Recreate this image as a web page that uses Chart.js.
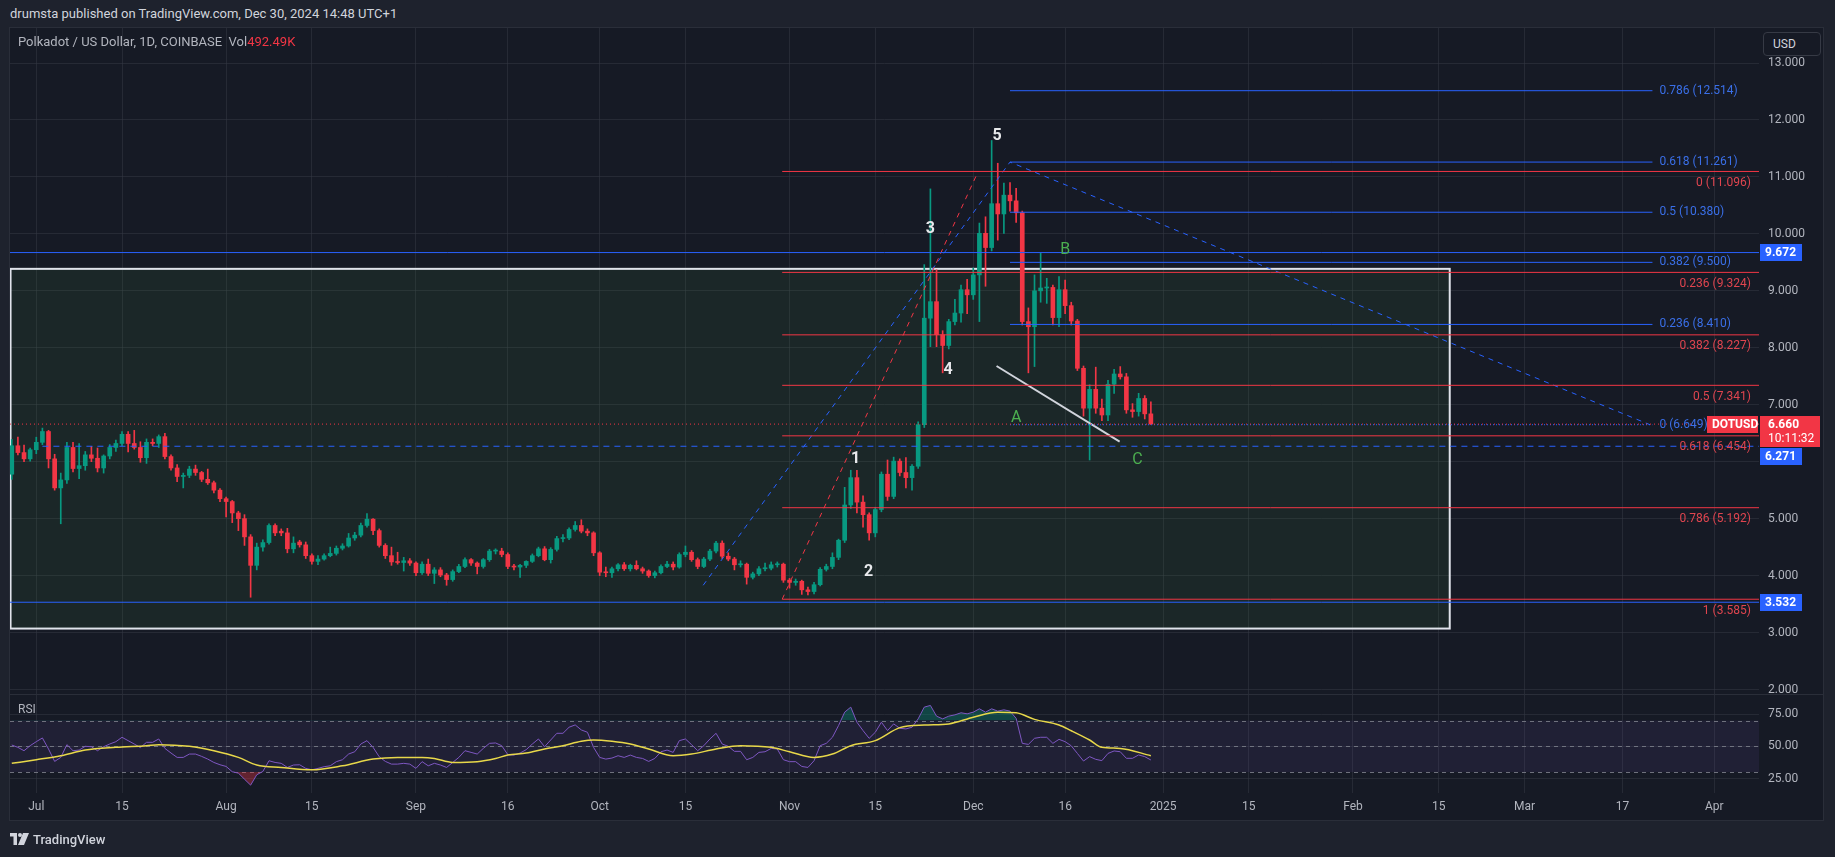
<!DOCTYPE html>
<html>
<head>
<meta charset="utf-8">
<script src="https://cdn.jsdelivr.net/npm/chart.js@4.4.1/dist/chart.umd.min.js"></script>
<style>
  body { margin:0; width:1835px; height:857px; background:#1e222d; overflow:hidden; position:relative;
         font-family: Roboto, "Liberation Sans", sans-serif; }
  #head { position:absolute; left:10px; top:5px; color:#d1d4dc; font-size:13px; line-height:18px; }
  #frame { position:absolute; left:9px; top:27px; width:1815px; height:794px; background:#161a25;
           border:1px solid #2a2e39; box-sizing:border-box; }
  #sep { position:absolute; left:10px; top:694px; width:1813px; height:1px; background:#2a2e39; }
  #price { position:absolute; left:10px; top:28px; }
  #rsi { position:absolute; left:10px; top:695px; }
  #legend { position:absolute; left:18px; top:34px; color:#b2b5be; font-size:13px; line-height:16px; }
  #legend span { color:#f23645; }
  #usd { position:absolute; left:1763px; top:32px; width:58px; height:24px; box-sizing:border-box;
         border:1px solid #363a45; border-radius:4px; color:#d1d4dc; font-size:12px; line-height:22px; padding-left:9px; background:#161a25; }
  #rsiLabel { position:absolute; left:18px; top:702px; color:#b2b5be; font-size:12px; }
  #logo { position:absolute; left:10px; top:831px; height:16px; display:flex; align-items:center; color:#d1d4dc; font-size:13px; font-weight:500; }
  #logo svg { margin-right:4px; }
</style>
</head>
<body>
<div id="head">drumsta published on TradingView.com, Dec 30, 2024 14:48 UTC+1</div>
<div id="frame"></div>
<canvas id="price" width="1813" height="666"></canvas>
<div id="sep"></div>
<canvas id="rsi" width="1813" height="126"></canvas>
<div id="legend">Polkadot / US Dollar, 1D, COINBASE&nbsp; Vol<span>492.49K</span></div>
<div id="usd">USD</div>
<div id="rsiLabel">RSI</div>
<div id="logo"><svg width="19" height="12" viewBox="0 0 19 12"><path d="M0 0h7v12H3.5V3.5H0z M13 0h6l-5 12H8z" fill="#d1d4dc"/><circle cx="10" cy="2" r="2" fill="#d1d4dc"/></svg>TradingView</div>
<script>
'use strict'
// days counted from 1 Jul 2024, first candle is 27 Jun 2024
const firstDay = -4;

const opens = [
  5.78,6.28,6.16,6.05,6.21,6.34,6.53,6.05,5.54,5.68,
  6.25,5.88,5.93,6.12,6.06,5.89,6.10,6.25,6.32,6.48,
  6.32,6.25,6.07,6.34,6.32,6.44,6.09,5.89,5.74,5.76,
  5.87,5.81,5.69,5.63,5.50,5.35,5.30,5.10,5.00,4.68,
  4.18,4.50,4.58,4.88,4.78,4.75,4.47,4.59,4.54,4.35,
  4.25,4.29,4.35,4.39,4.48,4.52,4.66,4.71,4.88,4.99,
  4.79,4.53,4.35,4.24,4.23,4.26,4.22,4.05,4.20,4.04,
  4.10,4.01,3.93,4.07,4.16,4.28,4.22,4.16,4.28,4.43,
  4.43,4.37,4.16,4.15,4.18,4.25,4.35,4.47,4.28,4.46,
  4.65,4.66,4.81,4.88,4.78,4.75,4.40,4.06,4.05,4.12,
  4.19,4.12,4.18,4.12,4.08,4.00,4.05,4.16,4.20,4.15,
  4.37,4.41,4.28,4.16,4.29,4.43,4.57,4.34,4.29,4.19,
  4.20,3.97,4.03,4.12,4.13,4.19,4.20,3.92,3.88,3.90,
  3.75,3.72,3.84,4.11,4.16,4.32,4.62,5.24,5.72,5.29,
  5.07,4.75,5.16,5.78,5.39,6.01,5.81,5.72,5.92,6.65,
  8.52,8.81,8.23,8.04,8.46,8.61,9.02,8.93,9.28,10.01,
  9.76,10.53,10.35,10.68,10.58,10.37,8.46,8.37,9.00,9.05,
  9.06,8.53,9.02,8.74,8.47,7.64,6.94,7.27,6.94,6.82,
  7.36,7.54,7.49,6.91,6.88,7.11,6.84
];
const highs = [
  6.39,6.43,6.29,6.24,6.43,6.59,6.55,6.13,5.80,6.34,
  6.34,6.32,6.18,6.27,6.24,6.12,6.30,6.38,6.53,6.53,
  6.55,6.35,6.40,6.40,6.47,6.50,6.12,5.95,5.80,5.92,
  5.94,5.83,5.87,5.66,5.53,5.38,5.32,5.13,5.07,4.72,
  4.57,4.63,4.91,4.91,4.82,4.83,4.68,4.62,4.59,4.38,
  4.35,4.38,4.50,4.52,4.56,4.74,4.76,4.92,5.09,5.00,
  4.82,4.56,4.50,4.41,4.32,4.30,4.24,4.24,4.29,4.14,
  4.14,4.04,4.10,4.20,4.31,4.30,4.24,4.30,4.46,4.47,
  4.48,4.40,4.20,4.20,4.26,4.38,4.50,4.51,4.49,4.69,
  4.72,4.84,4.95,4.98,4.82,4.77,4.42,4.15,4.15,4.21,
  4.23,4.20,4.26,4.15,4.10,4.08,4.19,4.25,4.24,4.40,
  4.52,4.44,4.31,4.32,4.46,4.60,4.61,4.40,4.32,4.26,
  4.22,4.06,4.16,4.22,4.24,4.24,4.22,3.95,3.94,3.92,
  3.80,3.88,4.14,4.20,4.40,4.64,5.55,5.85,5.85,5.40,
  5.10,5.20,5.82,6.03,6.08,6.05,6.07,5.95,6.70,9.46,
  10.79,9.37,8.30,8.50,8.85,9.10,9.20,9.40,10.19,10.30,
  11.64,11.24,10.89,10.90,10.80,10.40,8.70,9.28,9.66,9.22,
  9.10,9.25,9.19,8.80,8.50,7.68,7.35,7.66,7.10,7.43,
  7.62,7.67,7.55,7.02,7.20,7.16,7.05
];
const lows = [
  5.69,6.12,6.00,6.01,6.14,6.30,5.89,5.50,4.91,5.62,
  5.82,5.70,5.85,6.00,5.82,5.80,6.05,6.18,6.28,6.17,
  6.22,5.99,5.97,6.28,6.25,6.05,5.85,5.65,5.54,5.72,
  5.76,5.65,5.60,5.45,5.30,5.03,4.93,4.79,4.53,3.62,
  4.10,4.43,4.55,4.70,4.70,4.40,4.40,4.50,4.30,4.20,
  4.19,4.27,4.33,4.36,4.45,4.50,4.62,4.68,4.85,4.72,
  4.50,4.30,4.18,4.20,4.08,4.18,4.00,4.02,4.00,3.86,
  3.98,3.83,3.90,4.05,4.14,4.18,4.03,4.13,4.25,4.38,
  4.33,4.12,4.10,3.97,4.14,4.23,4.33,4.26,4.22,4.43,
  4.59,4.63,4.78,4.75,4.70,4.35,4.00,3.98,3.97,4.08,
  4.09,4.08,4.10,4.04,3.97,3.96,4.03,4.14,4.10,4.13,
  4.33,4.25,4.12,4.14,4.26,4.40,4.30,4.26,4.10,4.15,
  3.85,3.94,4.00,4.08,4.10,4.15,3.88,3.78,3.83,3.67,
  3.66,3.68,3.82,4.08,4.12,4.28,4.58,5.18,5.10,4.85,
  4.62,4.68,5.12,5.32,5.35,5.75,5.54,5.50,5.88,6.60,
  8.02,8.02,7.56,7.98,8.40,8.45,8.60,8.85,8.46,9.08,
  9.70,9.89,10.01,10.40,10.20,8.40,7.56,7.67,8.80,8.78,
  8.40,8.37,8.60,8.40,7.60,6.80,6.03,6.85,6.72,6.72,
  7.20,7.45,6.85,6.78,6.80,6.75,6.66
];
const closes = [
  6.28,6.16,6.05,6.21,6.34,6.53,6.05,5.54,5.68,6.25,
  5.88,5.93,6.12,6.06,5.89,6.10,6.25,6.32,6.48,6.32,
  6.25,6.07,6.34,6.32,6.44,6.09,5.89,5.74,5.76,5.87,
  5.81,5.69,5.63,5.50,5.35,5.30,5.10,5.00,4.68,4.18,
  4.50,4.58,4.88,4.75,4.75,4.47,4.57,4.54,4.35,4.25,
  4.29,4.35,4.39,4.48,4.52,4.66,4.71,4.88,4.99,4.79,
  4.53,4.35,4.24,4.23,4.26,4.22,4.05,4.20,4.04,4.10,
  4.01,3.93,4.07,4.16,4.28,4.22,4.16,4.28,4.43,4.43,
  4.37,4.16,4.15,4.18,4.25,4.35,4.47,4.28,4.46,4.65,
  4.66,4.81,4.88,4.78,4.75,4.40,4.06,4.05,4.12,4.19,
  4.12,4.18,4.12,4.08,4.00,4.05,4.16,4.20,4.15,4.37,
  4.41,4.28,4.16,4.29,4.43,4.57,4.34,4.29,4.19,4.20,
  3.97,4.03,4.12,4.13,4.19,4.20,3.92,3.88,3.90,3.75,
  3.72,3.84,4.11,4.16,4.32,4.62,5.24,5.72,5.29,5.07,
  4.75,5.16,5.78,5.39,6.01,5.81,5.72,5.92,6.65,8.52,
  8.81,8.23,8.04,8.46,8.61,9.02,8.93,9.28,10.01,9.76,
  10.53,10.35,10.68,10.58,10.37,8.46,8.37,9.00,9.05,9.06,
  8.53,9.02,8.74,8.47,7.64,6.94,7.27,6.94,6.82,7.36,
  7.54,7.49,6.91,6.88,7.11,6.84,6.66
];
const rsiValues = [
  51.0,49.2,46.6,50.5,53.6,56.5,47.9,38.3,41.4,51.3,
  46.6,47.1,50.0,49.7,46.6,49.7,51.8,53.6,57.0,54.4,
  51.8,49.0,53.1,53.1,55.7,48.4,44.8,41.4,41.4,44.0,
  44.0,42.2,40.1,37.5,35.7,34.4,30.3,29.2,24.5,19.9,
  27.9,30.5,38.8,37.5,36.8,33.6,35.5,35.7,32.9,31.8,
  32.9,34.2,34.9,38.1,39.6,44.0,45.8,51.8,54.4,49.2,
  41.9,38.3,36.2,36.2,36.8,36.2,32.9,38.1,34.9,36.8,
  35.5,33.6,37.5,41.4,46.6,45.3,44.0,48.4,52.3,52.6,
  50.5,43.5,43.2,44.8,47.4,51.8,55.7,49.7,54.9,60.1,
  60.1,64.8,66.6,62.7,60.9,49.2,41.4,40.1,40.9,42.7,
  41.4,43.2,41.4,40.6,38.3,40.6,45.8,47.1,45.3,54.4,
  55.7,51.3,46.6,50.5,55.7,60.1,51.8,50.0,46.1,46.1,
  39.6,41.4,45.3,45.8,48.4,47.9,39.6,38.1,38.1,34.4,
  33.6,38.8,50.5,52.3,57.0,66.1,76.5,80.4,68.7,62.2,
  56.2,60.9,68.7,62.2,67.4,64.0,63.5,64.8,71.3,80.4,
  81.7,73.4,71.3,73.4,74.4,76.0,75.2,76.5,79.1,76.5,
  79.1,77.3,78.3,77.3,71.7,52.3,51.5,56.2,57.0,57.0,
  52.3,55.4,53.6,50.4,44.5,38.6,42.0,39.9,38.9,44.5,
  46.4,45.8,40.7,40.7,43.3,42.0,39.4
];
// RSI moving average, read at these days
const maDays = [-4,0,4,8,13,18,20,25,29,33,36,40,45,50,55,59,63,65,68,72,75,77,80,83,86,89,91,94,97,100,
  104,107,111,115,120,123,127,130,133,137,141,145,149,153,157,160,163,167,169,172,174,177,182];
const maValues = [36.8,39.6,42.7,47.1,49.2,50.5,51.3,50.0,46.6,41.4,35.5,33.6,31.8,34.9,40.1,41.4,41.4,40.6,37.5,38.1,
  40.6,43.2,44.8,47.9,50.5,53.9,54.9,53.9,51.8,47.9,42.7,44.0,47.9,50.5,49.2,45.8,41.4,44.0,50.5,54.4,
  64.5,66.6,67.4,72.6,76.5,76.0,70.9,66.5,62.1,54.9,49.2,48.4,42.7];

const xTickDays = [0,14,31,45,62,77,92,106,123,137,153,168,184,198,215,229,243,259,274];
const xTickLabels = ['Jul','15','Aug','15','Sep','16','Oct','15','Nov','15','Dec','16','2025','15','Feb','15','Mar','17','Apr'];
const priceTicks = [2,3,4,5,6,7,8,9,10,11,12,13];
const rsiTicks = [25,50,75];

// fib retracement (red) and trend-based extension (blue)
const redFibLevels = ['0','0.236','0.382','0.5','0.618','0.786','1'];
const redFibPrices = [11.096,9.324,8.227,7.341,6.454,5.192,3.585];
const blueFibLevels = ['0','0.236','0.382','0.5','0.618','0.786'];
const blueFibPrices = [6.649,8.410,9.500,10.380,11.261,12.514];
const redFibSpan = [121.8, 153.8];
const blueFibDays = [108.9, 159.0, 263.5];
const blueFibAnchors = [3.83, 11.261, 6.649];
const blueFibEnd = 263.9;

const waveText = ['1','2','3','4','5'];
const waveDays = [133.8,135.9,146.0,148.9,156.9];
const wavePrices = [6.04,4.07,10.08,7.61,11.71];
const abcText = ['A','B','C'];
const abcDays = [160.0,168.0,179.8];
const abcPrices = [6.77,9.72,6.03];

const whiteLineDays = [156.8,176.9];
const whiteLinePrices = [7.68,6.351];
const boxDays = [-4.2, 230.8];
const boxPrices = [9.386, 3.07];

const lastPrice = 6.660;
const lastTime = '10:11:32';
const blueLines = [9.672, 3.532];
const blueDashed = 6.271;
const blueDashedFrom = 1;

const xMin = -4.29, xMax = 281.3;
const up = '#089981', down = '#f23645', blue = '#2962ff';

Chart.defaults.font.family = 'Roboto, "Liberation Sans", sans-serif';
Chart.defaults.font.size = 12;
Chart.defaults.color = '#b2b5be';
Chart.defaults.animation = false;

const days = closes.map((c, i) => firstDay + i);
const candleColor = closes.map((c, i) => c >= opens[i] ? up : down);
const gridColor = 'rgba(54,58,69,0.5)';

function noPad(s) {
  s.paddingTop = 0; s.paddingBottom = 0; s.paddingLeft = 0; s.paddingRight = 0;
}

function seg(points, color, dash, width) {
  return { type: 'line', data: points, borderColor: color, borderWidth: width || 1, borderDash: dash || [],
           pointRadius: 0, tension: 0, fill: false, order: 0 };
}

const priceSets = [
  { type: 'bar', data: days.map((d, i) => ({ x: d, y: [lows[i], highs[i]] })), backgroundColor: candleColor,
    barThickness: 1, grouped: false, order: 11 },
  { type: 'bar', data: days.map((d, i) => ({ x: d, y: [opens[i], closes[i]] })), backgroundColor: candleColor,
    barThickness: 4, grouped: false, minBarLength: 1, order: 10 }
];
blueLines.forEach(v => priceSets.push(seg([{ x: xMin, y: v }, { x: xMax, y: v }], blue)));
priceSets.push(seg([{ x: blueDashedFrom, y: blueDashed }, { x: xMax, y: blueDashed }], blue, [6, 5]));
priceSets.push(seg([{ x: xMin, y: lastPrice }, { x: xMax, y: lastPrice }], down, [1, 3]));
redFibPrices.forEach(v => priceSets.push(seg([{ x: redFibSpan[0], y: v }, { x: xMax, y: v }], down)));
blueFibPrices.forEach((v, i) => priceSets.push(seg([{ x: blueFibDays[1], y: v }, { x: blueFibEnd, y: v }], blue, i === 0 ? [1, 2] : [])));
priceSets.push(seg([{ x: redFibSpan[0], y: redFibPrices[6] }, { x: redFibSpan[1], y: redFibPrices[0] }], down, [5, 5]));
priceSets.push(seg(blueFibDays.map((d, i) => ({ x: d, y: blueFibAnchors[i] })), blue, [5, 5]));
priceSets.push(seg(whiteLineDays.map((d, i) => ({ x: d, y: whiteLinePrices[i] })), '#d1d4dc', [], 2));

function tag(ctx, x, yc, w, h, bg, text) {
  ctx.fillStyle = bg;
  ctx.fillRect(x, Math.round(yc - h / 2), w, h);
  ctx.fillStyle = '#ffffff';
  ctx.font = 'bold 12px Roboto, sans-serif';
  ctx.textAlign = 'left';
  ctx.textBaseline = 'middle';
  ctx.fillText(text, x + 5, yc + 0.5);
}

const priceDecor = {
  id: 'priceDecor',
  beforeDatasetsDraw(chart) {
    const { ctx, chartArea: a, scales: { x, y } } = chart;
    ctx.save();
    ctx.beginPath(); ctx.rect(a.left, a.top, a.width, a.height); ctx.clip();
    const x0 = x.getPixelForValue(boxDays[0]), x1 = x.getPixelForValue(boxDays[1]);
    const y0 = y.getPixelForValue(boxPrices[0]), y1 = y.getPixelForValue(boxPrices[1]);
    ctx.fillStyle = 'rgba(76,175,80,0.09)';
    ctx.fillRect(x0, y0, x1 - x0, y1 - y0);
    ctx.strokeStyle = '#e0e3eb';
    ctx.lineWidth = 2;
    ctx.strokeRect(x0, y0, x1 - x0, y1 - y0);
    ctx.restore();
  },
  afterDraw(chart) {
    const { ctx, chartArea: a, scales: { x, y } } = chart;
    ctx.save();
    ctx.font = '12px Roboto, sans-serif';
    ctx.textBaseline = 'middle';
    ctx.textAlign = 'right';
    ctx.fillStyle = '#e0454f';
    redFibPrices.forEach((v, i) => ctx.fillText(redFibLevels[i] + ' (' + v.toFixed(3) + ')', a.right - 8, y.getPixelForValue(v) + 11.5));
    ctx.textAlign = 'left';
    ctx.fillStyle = '#3a6fe8';
    const bx = x.getPixelForValue(blueFibEnd) + 7;
    blueFibPrices.forEach((v, i) => ctx.fillText(blueFibLevels[i] + ' (' + v.toFixed(3) + ')', bx, y.getPixelForValue(v)));

    ctx.textAlign = 'center';
    ctx.font = 'bold 16px Roboto, sans-serif';
    ctx.fillStyle = '#e8e9ec';
    waveText.forEach((t, i) => ctx.fillText(t, x.getPixelForValue(waveDays[i]), y.getPixelForValue(wavePrices[i])));
    ctx.font = '16px Roboto, sans-serif';
    ctx.fillStyle = '#4caf50';
    abcText.forEach((t, i) => ctx.fillText(t, x.getPixelForValue(abcDays[i]), y.getPixelForValue(abcPrices[i])));

    const ax = a.right + 1;
    blueLines.forEach(v => tag(ctx, ax, y.getPixelForValue(v), 42, 17, blue, v.toFixed(3)));
    const ly = y.getPixelForValue(lastPrice);
    const redTop = Math.round(ly - 8.5);
    ctx.fillStyle = down;
    ctx.fillRect(ax, redTop, 60, 31);
    ctx.fillStyle = '#ffffff';
    ctx.font = 'bold 12px Roboto, sans-serif';
    ctx.textAlign = 'left';
    ctx.fillText(lastPrice.toFixed(3), ax + 8, ly + 0.5);
    ctx.font = '12px Roboto, sans-serif';
    ctx.fillText(lastTime, ax + 8, ly + 14.5);
    tag(ctx, a.right - 52, ly, 51, 17, down, 'DOTUSD');
    // the 6.271 tag is pushed below the last-price tag, as the platform does with overlapping labels
    tag(ctx, ax, Math.max(y.getPixelForValue(blueDashed), redTop + 31 + 1 + 8.5), 42, 17, blue, blueDashed.toFixed(3));
    ctx.restore();
  }
};

new Chart(document.getElementById('price'), {
  type: 'bar',
  data: { datasets: priceSets },
  options: {
    responsive: false, events: [],
    layout: { padding: 0 },
    plugins: { legend: { display: false }, tooltip: { enabled: false } },
    scales: {
      x: { type: 'linear', min: xMin, max: xMax, offset: false,
           grid: { color: gridColor, offset: false, drawTicks: false }, border: { display: false },
           ticks: { display: false },
           afterBuildTicks: s => { s.ticks = xTickDays.map(v => ({ value: v })); },
           afterFit: s => { s.height = 0; noPad(s); } },
      y: { position: 'right', min: 1.921, max: 13.615,
           grid: { color: gridColor, drawTicks: false }, border: { display: false },
           ticks: { padding: 9, color: '#b2b5be', callback: v => v.toFixed(3) },
           afterBuildTicks: s => { s.ticks = priceTicks.map(v => ({ value: v })); },
           afterFit: s => { s.width = 64; noPad(s); } }
    }
  },
  plugins: [priceDecor]
});

const rsiDecor = {
  id: 'rsiDecor',
  beforeDatasetsDraw(chart) {
    const { ctx, chartArea: a, scales: { y } } = chart;
    ctx.save();
    const y70 = y.getPixelForValue(70), y30 = y.getPixelForValue(30);
    ctx.fillStyle = 'rgba(126,87,194,0.1)';
    ctx.fillRect(a.left, y70, a.width, y30 - y70);
    ctx.strokeStyle = 'rgba(120,123,134,0.9)';
    ctx.lineWidth = 1;
    ctx.setLineDash([4, 4]);
    [70, 50, 30].forEach(v => {
      const yy = Math.round(y.getPixelForValue(v)) + 0.5;
      ctx.beginPath(); ctx.moveTo(a.left, yy); ctx.lineTo(a.right, yy); ctx.stroke();
    });
    ctx.restore();
  }
};

const rsiPoints = rsiValues.map((v, i) => ({ x: days[i], y: v }));
new Chart(document.getElementById('rsi'), {
  type: 'line',
  data: { datasets: [
    { data: rsiPoints, borderColor: '#7e57c2', borderWidth: 1, pointRadius: 0, tension: 0,
      fill: { target: { value: 70 }, above: 'rgba(8,153,129,0.35)', below: 'rgba(0,0,0,0)' }, order: 1 },
    { data: rsiPoints, borderWidth: 0, borderColor: 'rgba(0,0,0,0)', pointRadius: 0, tension: 0,
      fill: { target: { value: 30 }, above: 'rgba(0,0,0,0)', below: 'rgba(242,54,69,0.35)' }, order: 2 },
    { data: maDays.map((d, i) => ({ x: d, y: maValues[i] })), borderColor: '#e8d84a', borderWidth: 1.5,
      pointRadius: 0, cubicInterpolationMode: 'monotone', fill: false, order: 0 }
  ] },
  options: {
    responsive: false, events: [],
    layout: { padding: 0 },
    plugins: { legend: { display: false }, tooltip: { enabled: false } },
    scales: {
      x: { type: 'linear', min: xMin, max: xMax,
           grid: { color: gridColor, drawTicks: false }, border: { display: false },
           ticks: { padding: 7, color: '#b2b5be', maxRotation: 0, autoSkip: false,
                    callback: (v, i) => xTickLabels[i] },
           afterBuildTicks: s => { s.ticks = xTickDays.map(v => ({ value: v })); },
           afterFit: s => { s.height = 28; noPad(s); } },
      y: { position: 'right', min: 13.8, max: 89.8,
           grid: { color: gridColor, drawTicks: false }, border: { display: false },
           ticks: { padding: 9, color: '#b2b5be', callback: v => v.toFixed(2) },
           afterBuildTicks: s => { s.ticks = rsiTicks.map(v => ({ value: v })); },
           afterFit: s => { s.width = 64; noPad(s); } }
    }
  },
  plugins: [rsiDecor]
});
</script>
</body>
</html>
